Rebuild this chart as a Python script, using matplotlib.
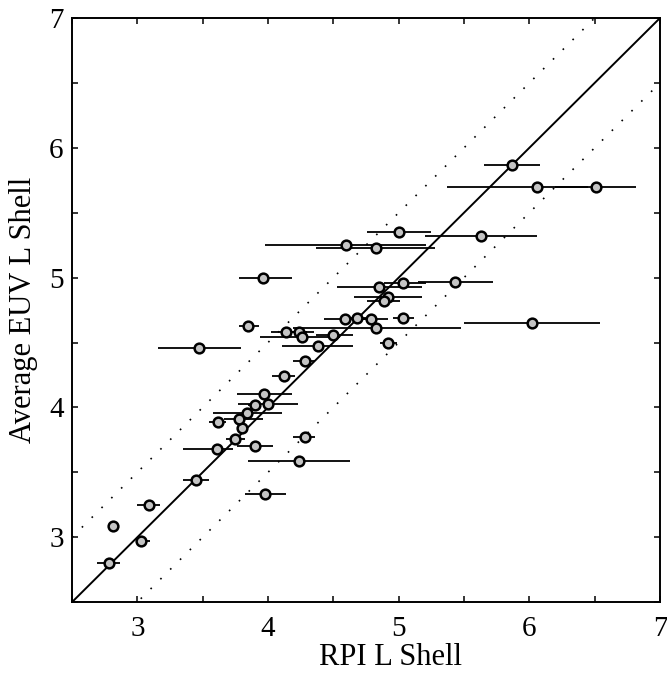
import numpy as np
import matplotlib
matplotlib.use('Agg')
import matplotlib.pyplot as plt
from matplotlib.ticker import MultipleLocator, FuncFormatter

# RPI L value, EUV L value, and the RPI range (low / high) for each event
rpi_l = [2.78, 2.81, 3.03, 3.09, 3.45, 3.61, 3.75, 3.90, 3.80, 3.62,
         3.84, 3.78, 3.90, 4.00, 3.97, 4.28, 4.24, 3.98, 3.85, 3.47,
         4.14, 4.24, 4.26, 4.50, 4.59, 4.68, 4.79, 4.38, 4.28, 4.12,
         5.00, 4.60, 4.83, 5.63, 3.96, 4.85, 5.03, 5.43, 4.92, 4.89,
         5.03, 4.83, 4.92, 5.87, 6.06, 6.51, 6.02]
euv_l = [2.80, 3.09, 2.97, 3.25, 3.44, 3.68, 3.76, 3.70, 3.84, 3.89,
         3.96, 3.91, 4.02, 4.03, 4.10, 3.77, 3.59, 3.33, 4.63, 4.46,
         4.58, 4.58, 4.54, 4.56, 4.68, 4.69, 4.68, 4.47, 4.36, 4.24,
         5.35, 5.25, 5.23, 5.32, 5.00, 4.93, 4.96, 4.97, 4.85, 4.82,
         4.69, 4.61, 4.50, 5.87, 5.70, 5.70, 4.65]
rpi_lo = [2.69, 2.81, 3.00, 3.00, 3.35, 3.35, 3.68, 3.76, 3.78, 3.55,
          3.58, 3.66, 3.85, 3.77, 3.76, 4.19, 3.85, 3.82, 3.78, 3.16,
          4.02, 4.15, 3.94, 4.37, 4.43, 4.60, 4.70, 4.11, 4.19, 4.03,
          4.76, 3.98, 4.37, 5.20, 3.78, 4.53, 4.89, 5.15, 4.66, 4.76,
          4.96, 4.19, 4.86, 5.65, 5.37, 6.20, 5.50]
rpi_hi = [2.87, 2.81, 3.10, 3.17, 3.55, 3.73, 3.82, 4.04, 3.83, 3.68,
          4.11, 3.96, 3.95, 4.23, 4.18, 4.36, 4.63, 4.14, 3.93, 3.79,
          4.30, 4.35, 4.55, 4.65, 4.75, 4.76, 4.92, 4.65, 4.36, 4.21,
          5.25, 5.21, 5.28, 6.06, 4.18, 5.18, 5.21, 5.72, 5.18, 5.01,
          5.12, 5.48, 4.99, 6.08, 6.45, 6.82, 6.54]

plt.rcParams['font.family'] = ['Liberation Serif', 'DejaVu Serif']

x = np.array(rpi_l)
y = np.array(euv_l)
xerr = [x - np.array(rpi_lo), np.array(rpi_hi) - x]

fig = plt.figure(figsize=(6.67, 6.75), dpi=100)
ax = fig.add_axes([0.108, 0.108, 0.8815, 0.8653])

lims = np.array([2.5, 7.0])
ax.plot(lims, lims, color='black', lw=1.4)
ax.plot(lims, lims + 0.5, color='black', lw=1.2, ls=(0, (1, 7.3)))
ax.plot(lims, lims - 0.5, color='black', lw=1.2, ls=(0, (1, 7.3)))

ax.errorbar(x, y, xerr=xerr, fmt='none', ecolor='black', elinewidth=1.3, capsize=0)
ax.plot(x, y, 'o', ms=7, mfc='#c4c4c4', mec='black', mew=1.8, zorder=5)

ax.set_xlim(2.5, 7)
ax.set_ylim(2.5, 7)
for a in (ax.xaxis, ax.yaxis):
    a.set_major_locator(MultipleLocator(1))
    a.set_minor_locator(MultipleLocator(0.5))
    a.set_major_formatter(FuncFormatter(lambda v, p: '%d' % v))
ax.tick_params(which='both', direction='in', top=True, right=True,
               length=4.3, width=1.1)
ax.tick_params(axis='x', labelsize=21, pad=10)
ax.tick_params(axis='y', labelsize=21, pad=6)
for s in ax.spines.values():
    s.set_linewidth(1.4)

ax.set_xlabel('RPI L Shell', fontsize=22)
ax.set_ylabel('Average EUV L Shell', fontsize=22)
ax.xaxis.set_label_coords(0.542, -0.07)
ax.yaxis.set_label_coords(-0.058, 0.50)

fig.savefig('out.png', dpi=100)
